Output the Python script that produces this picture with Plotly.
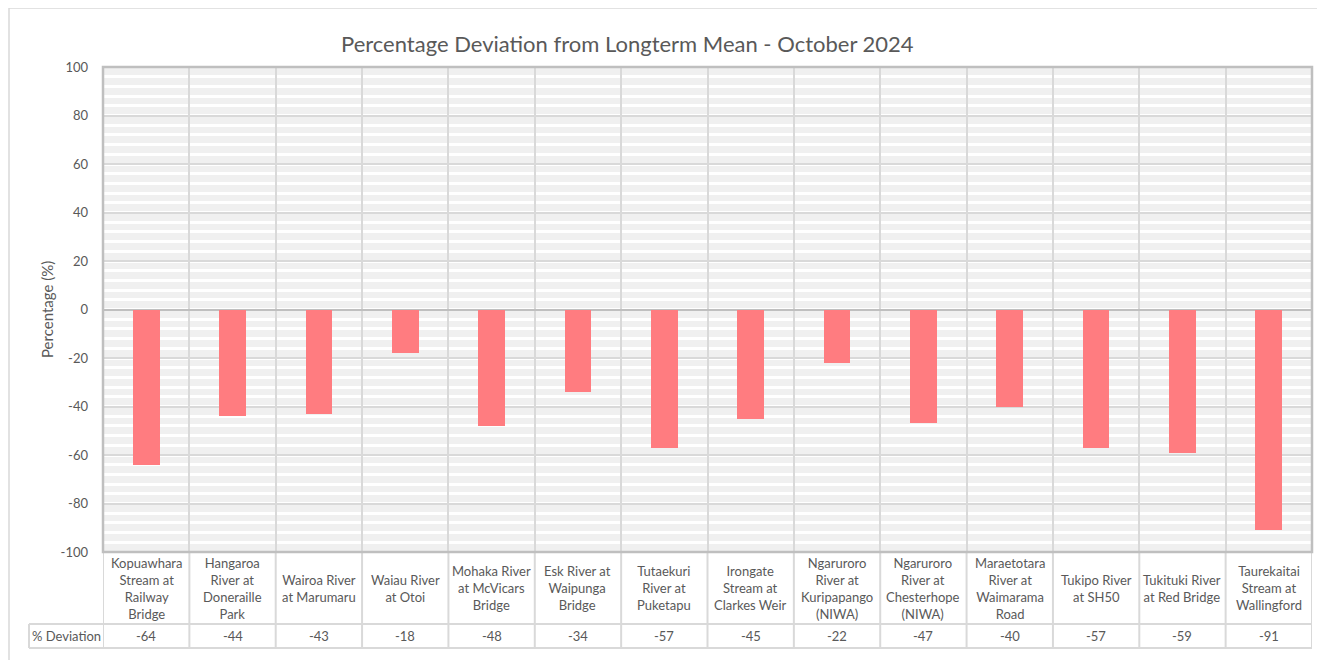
import plotly.graph_objects as go

# ---- data ----
sites = [
    "Kopuawhara Stream at Railway Bridge",
    "Hangaroa River at Doneraille Park",
    "Wairoa River at Marumaru",
    "Waiau River at Otoi",
    "Mohaka River at McVicars Bridge",
    "Esk River at Waipunga Bridge",
    "Tutaekuri River at Puketapu",
    "Irongate Stream at Clarkes Weir",
    "Ngaruroro River at Kuripapango (NIWA)",
    "Ngaruroro River at Chesterhope (NIWA)",
    "Maraetotara River at Waimarama Road",
    "Tukipo River at SH50",
    "Tukituki River at Red Bridge",
    "Taurekaitai Stream at Wallingford",
]
tick_labels = [
    "Kopuawhara<br>Stream at<br>Railway<br>Bridge",
    "Hangaroa<br>River at<br>Doneraille<br>Park",
    "Wairoa River<br>at Marumaru",
    "Waiau River<br>at Otoi",
    "Mohaka River<br>at McVicars<br>Bridge",
    "Esk River at<br>Waipunga<br>Bridge",
    "Tutaekuri<br>River at<br>Puketapu",
    "Irongate<br>Stream at<br>Clarkes Weir",
    "Ngaruroro<br>River at<br>Kuripapango<br>(NIWA)",
    "Ngaruroro<br>River at<br>Chesterhope<br>(NIWA)",
    "Maraetotara<br>River at<br>Waimarama<br>Road",
    "Tukipo River<br>at SH50",
    "Tukituki River<br>at Red Bridge",
    "Taurekaitai<br>Stream at<br>Wallingford",
]
deviation = [-64, -44, -43, -18, -48, -34, -57, -45, -22, -47, -40, -57, -59, -91]
y_ticks = [100, 80, 60, 40, 20, 0, -20, -40, -60, -80, -100]
series_name = "% Deviation"
title_text = "Percentage Deviation from Longterm Mean - October 2024"
y_title = "Percentage (%)"

# ---- style ----
FONT = "Lato"
TXT = "#595959"
GRID = "#d9d9d9"
BORDER = "#bfbfbf"
BAR = "#FF7C80"

n = len(sites)
xs = list(range(n))

fig = go.Figure()
fig.add_trace(go.Bar(
    x=xs, y=deviation, width=0.31, marker=dict(color=BAR, line=dict(width=0)),
    name=series_name, hovertext=sites, showlegend=False,
))

# page offset (body margin) is 8px; geometry below is in screenshot pixels
OFF = 8
W, H = 1325 - OFF, 660 - OFF
L, R, T, B = 103 - OFF, 13, 67 - OFF, 108
ph = H - T - B
pw = W - L - R


def py(pix):
    return (H - B - (pix - OFF)) / ph


def px(pix):
    return ((pix - OFF) - L) / pw


shapes = []
annotations = []

# table: category label row and value row
row1_bot = py(624)
row2_bot = py(648)
for i in range(n + 1):
    shapes.append(dict(type="line", xref="x", yref="paper", x0=i - 0.5, x1=i - 0.5,
                       y0=0, y1=row2_bot, line=dict(color=GRID, width=2), layer="above"))
shapes.append(dict(type="line", xref="paper", yref="paper", x0=px(29), x1=1,
                   y0=row1_bot, y1=row1_bot, line=dict(color=GRID, width=2)))
shapes.append(dict(type="line", xref="paper", yref="paper", x0=px(29), x1=1,
                   y0=row2_bot, y1=row2_bot, line=dict(color=GRID, width=2)))
shapes.append(dict(type="line", xref="paper", yref="paper", x0=px(29), x1=px(29),
                   y0=row1_bot, y1=row2_bot, line=dict(color=GRID, width=2)))
# plot area border
shapes.append(dict(type="rect", xref="paper", yref="paper", x0=0, x1=1, y0=0, y1=1,
                   line=dict(color=BORDER, width=2.5), layer="above"))
# chart outer border
shapes.append(dict(type="rect", xref="paper", yref="paper", x0=px(9), x1=px(1321),
                   y0=py(668), y1=py(8), line=dict(color=GRID, width=1.5)))

cell_font = dict(family=FONT, size=13, color=TXT)
for i, lab in enumerate(tick_labels):
    annotations.append(dict(x=i, y=py(588), xref="x", yref="paper", text=lab,
                            xanchor="center", yanchor="middle",
                            showarrow=False, align="center", font=cell_font))
    annotations.append(dict(x=i, y=py(636), xref="x", yref="paper", text=str(deviation[i]),
                            xanchor="center", yanchor="middle",
                            showarrow=False, font=cell_font))
annotations.append(dict(x=px(66), y=py(636), xref="paper", yref="paper", text=series_name,
                        xanchor="center", yanchor="middle",
                        showarrow=False, font=cell_font))
annotations.append(dict(x=px(47), y=py(310), xref="paper", yref="paper", text=y_title,
                        xanchor="center", yanchor="middle",
                        textangle=-90, showarrow=False,
                        font=dict(family=FONT, size=15, color=TXT)))
annotations.append(dict(x=px(627), y=py(44), xref="paper", yref="paper", text=title_text,
                        xanchor="center", yanchor="middle",
                        showarrow=False, font=dict(family=FONT, size=22, color=TXT)))

fig.update_layout(
    width=W, height=H,
    margin=dict(l=L, r=R, t=T, b=B, autoexpand=False),
    paper_bgcolor="white",
    plot_bgcolor="#f0f0f0",
    shapes=shapes,
    annotations=annotations,
    bargap=0,
    xaxis=dict(range=[-0.5, n - 0.5], tickvals=[i - 0.5 for i in range(n + 1)],
               showticklabels=False, showgrid=True, gridcolor=GRID, gridwidth=2,
               zeroline=False, ticks="", showline=False, fixedrange=True),
    yaxis=dict(range=[-100, 100], tickvals=y_ticks, ticktext=[str(v) for v in y_ticks],
               showgrid=True, gridcolor=GRID,
               gridwidth=2, zeroline=True, zerolinecolor=BORDER, zerolinewidth=2,
               ticks="", ticklabelstandoff=14, showline=False,
               tickfont=dict(family=FONT, size=13, color=TXT),
               minor=dict(dtick=4, tick0=0, showgrid=True, gridcolor="white", gridwidth=2.5),
               fixedrange=True),
    font=dict(family=FONT, color=TXT),
)

fig.write_html("out.html")
